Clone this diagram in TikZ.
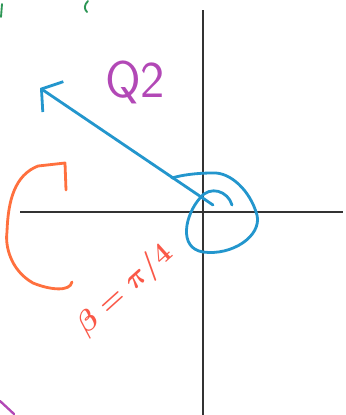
\documentclass[tikz,border=0pt]{standalone}
\usepackage{xcolor}
\usepackage{tikz}
\usetikzlibrary{arrows.meta,positioning,calc}

\definecolor{penblue}{RGB}{35,150,205}
\definecolor{penpurple}{RGB}{178,72,182}
\definecolor{penorange}{RGB}{255,112,62}
\definecolor{penred}{RGB}{250,88,72}
\definecolor{pengreen}{RGB}{45,150,85}

\begin{document}
\begin{tikzpicture}[
  x=0.03cm, y=-0.03cm,
  axis/.style={draw=black!80, line width=1.6pt},
  pen/.style={line width=2.4pt, line cap=round, line join=round},
  every node/.style={inner sep=0pt}
]
\useasboundingbox (0,0) rectangle (346,415);

% axes
\coordinate (O) at (203,212);
\draw[axis] (203,10) -- (203,415);
\draw[axis] (20,212) -- (343,212);

% vector in the second quadrant
\coordinate (tail) at (213,205);
\coordinate (tip) at (40,88);
\draw[pen, draw=penblue, -{Straight Barb[length=4.2mm, width=11mm, line width=2.4pt]}] (tail) -- (tip);

% spiral round the origin
\draw[pen, draw=penblue] (232,205) .. controls (228,191) and (210,185) .. (200,198)
  .. controls (185,215) and (178,248) .. (203,252)
  .. controls (232,256) and (262,236) .. (257,215)
  .. controls (250,190) and (230,172) .. (213,173)
  .. controls (196,173) and (182,175) .. (172,178);

% label
\node[text=penpurple, font=\fontsize{44}{44}\selectfont\sffamily] (q2) at (135,82) {Q2};

% turning arrow
\draw[pen, draw=penorange] (72,282) .. controls (70,292) and (50,290) .. (33,283)
  .. controls (10,270) and (5,245) .. (7,232)
  .. controls (8,200) and (15,175) .. (38,166)
  -- (65,163) -- (66,190);

% angle
\node[text=penred, rotate=42, font=\fontsize{36}{36}\selectfont\boldmath] (beta) at (125,290)
  {$\beta=\pi/4$};

% stray marks at the edges
\draw[pen, draw=pengreen, line width=1.6pt] (2,4) -- (1,17);
\draw[pen, draw=pengreen, line width=1.6pt] (88,1) .. controls (84,5) and (84,9) .. (87,12);
\draw[pen, draw=penpurple, line width=2pt] (0,401) -- (14,414);
\end{tikzpicture}
\end{document}
